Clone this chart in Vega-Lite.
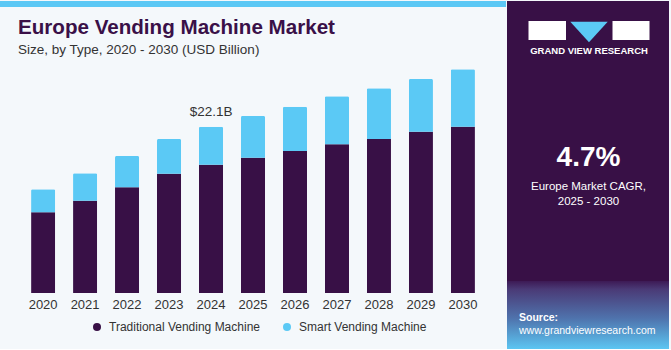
{
  "$schema": "https://vega.github.io/schema/vega-lite/v6.json",
  "background": "#f4f8fb",
  "padding": {"left": 0, "top": 0, "right": 3, "bottom": 0},
  "autosize": {"type": "pad"},
  "spacing": 0,
  "config": {
    "font": "Liberation Sans",
    "view": {"stroke": null},
    "locale": {"number": {"decimal": ".", "thousands": ",", "grouping": [3], "currency": ["$", "B"]}}
  },
  "hconcat": [
    {
      "spacing": 10,
      "vconcat": [
        {
          "width": 506,
          "height": 6,
          "view": {"fill": "#5bc8f5", "stroke": null},
          "data": {"values": [{}]},
          "mark": {"type": "rect", "color": "#5bc8f5", "x": 0, "x2": 506, "y": 0, "y2": 6},
          "encoding": {}
        },
        {
          "width": 506,
          "height": 231,
          "title": {
            "text": "Europe Vending Machine Market",
            "subtitle": "Size, by Type, 2020 - 2030 (USD Billion)",
            "anchor": "start",
            "frame": "group",
            "dx": 18,
            "offset": 6,
            "font": "Liberation Sans",
            "fontSize": 20.6,
            "fontWeight": "bold",
            "color": "#3a1048",
            "subtitleFont": "Liberation Sans",
            "subtitleFontSize": 13.5,
            "subtitleColor": "#333333",
            "subtitlePadding": 4
          },
          "data": {
            "values": [
              {"year": "2020", "type": "Traditional Vending Machine", "value": 10.72},
              {"year": "2020", "type": "Smart Vending Machine", "value": 3.06},
              {"year": "2021", "type": "Traditional Vending Machine", "value": 12.27},
              {"year": "2021", "type": "Smart Vending Machine", "value": 3.64},
              {"year": "2022", "type": "Traditional Vending Machine", "value": 14.05},
              {"year": "2022", "type": "Smart Vending Machine", "value": 4.16},
              {"year": "2023", "type": "Traditional Vending Machine", "value": 15.85},
              {"year": "2023", "type": "Smart Vending Machine", "value": 4.62},
              {"year": "2024", "type": "Traditional Vending Machine", "value": 17.05},
              {"year": "2024", "type": "Smart Vending Machine", "value": 5.05},
              {"year": "2025", "type": "Traditional Vending Machine", "value": 17.98},
              {"year": "2025", "type": "Smart Vending Machine", "value": 5.54},
              {"year": "2026", "type": "Traditional Vending Machine", "value": 18.87},
              {"year": "2026", "type": "Smart Vending Machine", "value": 5.89},
              {"year": "2027", "type": "Traditional Vending Machine", "value": 19.76},
              {"year": "2027", "type": "Smart Vending Machine", "value": 6.38},
              {"year": "2028", "type": "Traditional Vending Machine", "value": 20.47},
              {"year": "2028", "type": "Smart Vending Machine", "value": 6.73},
              {"year": "2029", "type": "Traditional Vending Machine", "value": 21.44},
              {"year": "2029", "type": "Smart Vending Machine", "value": 7.0},
              {"year": "2030", "type": "Traditional Vending Machine", "value": 22.1},
              {"year": "2030", "type": "Smart Vending Machine", "value": 7.63}
            ]
          },
          "encoding": {
            "x": {
              "field": "year",
              "type": "ordinal",
              "scale": {"paddingInner": 0.426, "paddingOuter": 0.74},
              "axis": {
                "title": null,
                "domain": false,
                "ticks": false,
                "labelAngle": 0,
                "labelFontSize": 13,
                "labelColor": "#333333",
                "labelPadding": 5
              }
            }
          },
          "layer": [
            {
              "mark": {"type": "bar", "cornerRadiusTopLeft": 1.5, "cornerRadiusTopRight": 1.5},
              "encoding": {
                "y": {
                  "field": "value",
                  "type": "quantitative",
                  "stack": "zero",
                  "scale": {"domain": [0, 30.7], "nice": false, "zero": true},
                  "axis": null
                },
                "color": {
                  "field": "type",
                  "type": "nominal",
                  "sort": ["Traditional Vending Machine", "Smart Vending Machine"],
                  "scale": {
                    "domain": ["Traditional Vending Machine", "Smart Vending Machine"],
                    "range": ["#381046", "#5bc9f5"]
                  },
                  "legend": {
                    "title": null,
                    "orient": "none",
                    "direction": "horizontal",
                    "legendX": 91,
                    "legendY": 320,
                    "padding": 0,
                    "symbolType": "circle",
                    "symbolSize": 64,
                    "labelFontSize": 12,
                    "labelColor": "#333333",
                    "labelOffset": 6,
                    "columnPadding": 21
                  }
                }
              }
            },
            {
              "transform": [
                {"aggregate": [{"op": "sum", "field": "value", "as": "total"}], "groupby": ["year"]},
                {"filter": "datum.year == '2024'"}
              ],
              "mark": {"type": "text", "baseline": "alphabetic", "dy": -10.5, "fontSize": 13.5, "color": "#333333"},
              "encoding": {
                "y": {"field": "total", "type": "quantitative"},
                "text": {"field": "total", "type": "quantitative", "format": "$.1f"}
              }
            }
          ]
        }
      ]
    },
    {
      "width": 162,
      "height": 348,
      "view": {"fill": "#381046", "stroke": null},
      "data": {"values": [{}]},
      "layer": [
        {
          "mark": {
            "type": "rect",
            "x": 0, "x2": 162, "y": 280, "y2": 348,
            "fill": {
              "gradient": "linear", "x1": 0, "y1": 0, "x2": 0, "y2": 1,
              "stops": [
                {"offset": 0, "color": "#3d1a55"},
                {"offset": 0.12, "color": "#4a3a76"},
                {"offset": 0.55, "color": "#4f73ad"},
                {"offset": 1, "color": "#5cc6f2"}
              ]
            }
          },
          "encoding": {}
        },
        {"mark": {"type": "rect", "x": 21.5, "x2": 59, "y": 20, "y2": 39, "fill": "#ffffff"}, "encoding": {}},
        {"mark": {"type": "rect", "x": 105.5, "x2": 142.5, "y": 20, "y2": 39, "fill": "#ffffff"}, "encoding": {}},
        {
          "mark": {
            "type": "point", "filled": true, "opacity": 1, "fill": "#5bc9f5", "strokeWidth": 0,
            "shape": "M-1,-0.55L1,-0.55L0,0.55Z", "size": 1400, "x": 82, "y": 31
          },
          "encoding": {}
        },
        {"mark": {"type": "rule", "x": 37.5, "x2": 57, "y": 32, "y2": 32, "color": "#381046", "strokeWidth": 1.2}, "encoding": {}},
        {"mark": {"type": "rule", "x": 37.5, "x2": 37.5, "y": 29, "y2": 32, "color": "#381046", "strokeWidth": 1.2}, "encoding": {}},
        {"mark": {"type": "rule", "x": 125, "x2": 140.5, "y": 29.5, "y2": 36, "color": "#381046", "strokeWidth": 1.2}, "encoding": {}},
        {
          "mark": {"type": "text", "text": "GRAND VIEW RESEARCH", "x": 82, "y": 53.3, "align": "center", "baseline": "alphabetic", "fontSize": 9.5, "fontWeight": "bold", "color": "#ffffff"},
          "encoding": {}
        },
        {
          "mark": {"type": "text", "text": "4.7%", "x": 81.5, "y": 165, "align": "center", "baseline": "alphabetic", "fontSize": 28, "fontWeight": "bold", "color": "#ffffff"},
          "encoding": {}
        },
        {"mark": {"type": "rule", "x": 26, "x2": 137, "y": 173.5, "y2": 173.5, "color": "#a497b5", "strokeWidth": 1.5}, "encoding": {}},
        {
          "mark": {"type": "text", "text": "Europe Market CAGR,", "x": 81.5, "y": 189.3, "align": "center", "baseline": "alphabetic", "fontSize": 11.5, "color": "#ffffff"},
          "encoding": {}
        },
        {
          "mark": {"type": "text", "text": "2025 - 2030", "x": 81.5, "y": 204, "align": "center", "baseline": "alphabetic", "fontSize": 11.5, "color": "#ffffff"},
          "encoding": {}
        },
        {
          "mark": {"type": "text", "text": "Source:", "x": 12, "y": 320, "align": "left", "baseline": "alphabetic", "fontSize": 10.5, "fontWeight": "bold", "color": "#ffffff"},
          "encoding": {}
        },
        {
          "mark": {"type": "text", "text": "www.grandviewresearch.com", "x": 12, "y": 332.7, "align": "left", "baseline": "alphabetic", "fontSize": 10.5, "color": "#ffffff"},
          "encoding": {}
        }
      ]
    }
  ]
}
